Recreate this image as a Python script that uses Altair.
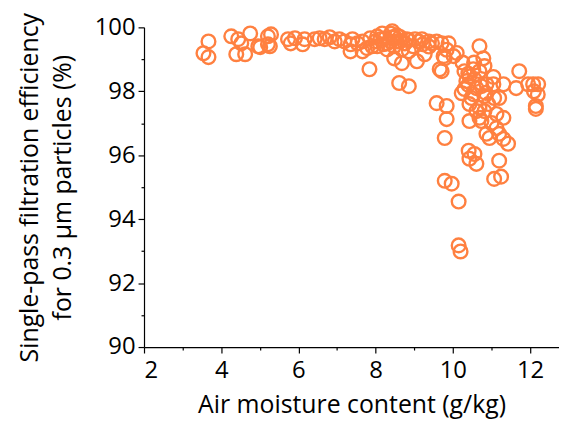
import altair as alt
import pandas as pd

moisture = [
    3.54, 3.67, 3.67, 4.26, 4.44, 4.52, 4.39, 4.62, 4.75, 4.96, 5.21, 5.29, 5.26, 5.01,
    5.73, 5.80, 5.91, 6.11, 6.16, 6.42, 6.55, 6.68, 6.81, 6.94, 7.06, 7.19, 7.35, 7.35,
    7.40, 7.53, 7.66, 7.86, 7.84, 7.99, 8.04, 8.12, 8.20, 8.25, 8.30, 8.38, 8.43, 8.48,
    8.48, 8.56, 8.61, 8.68, 8.68, 8.76, 8.86, 8.86, 8.97, 9.07, 9.12, 9.22, 9.27, 9.38,
    9.58, 9.66, 9.71, 9.76, 9.79, 9.89, 10.02, 9.58, 9.84, 9.84, 9.79, 9.79, 9.97, 10.15,
    10.15, 10.20, 9.71, 10.30, 10.53, 10.69, 10.43, 10.79, 10.82, 10.69, 11.72, 10.30,
    10.61, 10.87, 11.05, 11.31, 11.64, 11.95, 12.08, 12.21, 10.53, 10.82, 11.07, 11.20,
    10.43, 10.69, 10.61, 12.15, 12.15, 10.43, 10.69, 11.13, 11.31, 11.00, 11.13, 10.87,
    10.95, 11.20, 11.31, 11.43, 10.41, 10.56, 10.43, 10.61, 11.20, 11.07, 11.25,
    10.35, 10.56, 10.74, 10.48, 10.23, 10.92, 10.82, 10.74,
    8.04, 8.17, 8.43, 8.50, 8.30, 7.91, 7.78, 7.66, 8.63, 8.81, 9.02, 9.20,
    5.21, 10.25, 10.40, 10.55, 12.20, 12.10, 10.40, 10.85, 11.05, 8.55, 8.63, 8.40,
    8.86, 9.46, 9.38, 9.84, 10.10,
]
efficiency = [
    99.19, 99.07, 99.56, 99.72, 99.63, 99.50, 99.16, 99.16, 99.81, 99.41, 99.47, 99.78, 99.41, 99.38,
    99.63, 99.50, 99.66, 99.47, 99.63, 99.63, 99.66, 99.63, 99.69, 99.56, 99.63, 99.56, 99.47, 99.25,
    99.63, 99.50, 99.56, 99.66, 98.69, 99.56, 99.41, 99.63, 99.47, 99.66, 99.31, 99.56, 99.69, 99.03,
    99.41, 99.56, 98.26, 98.88, 99.31, 99.50, 98.16, 99.25, 99.41, 98.94, 99.56, 99.47, 99.16, 99.56,
    99.56, 98.69, 99.50, 99.10, 99.03, 99.50, 99.10, 97.63, 97.54, 97.13, 96.54, 95.20, 95.11, 94.55,
    93.18, 92.99, 98.63, 98.63, 98.69, 98.63, 98.47, 99.03, 98.79, 99.41, 98.63, 98.07,
    98.10, 98.22, 98.22, 98.22, 98.10, 98.22, 98.22, 98.22, 97.91, 97.85, 97.79, 97.79,
    97.60, 97.48, 97.38, 97.54, 97.45, 97.07, 97.17, 97.29, 97.17, 97.01, 96.85, 96.67,
    96.54, 96.67, 96.51, 96.36, 96.14, 96.04, 95.89, 95.73, 95.83, 95.26, 95.33,
    98.32, 98.38, 98.16, 97.79, 97.94, 97.60, 97.38, 97.07,
    99.72, 99.81, 99.88, 99.69, 99.50, 99.41, 99.35, 99.25, 99.56, 99.63, 99.63, 99.63,
    99.72, 98.90, 98.55, 98.90, 97.90, 98.00, 98.20, 97.95, 98.45, 99.75, 99.70, 99.80,
    99.60, 99.50, 99.40, 99.30, 99.20,
]

df = pd.DataFrame({"moisture": moisture, "efficiency": efficiency})

FONT = "Open Sans"
x_major = [2, 4, 6, 8, 10, 12]
x_minor = [3, 5, 7, 9, 11]
y_major = [90, 92, 94, 96, 98, 100]
y_minor = [91, 93, 95, 97, 99]

xscale = alt.Scale(domain=[2, 12.75], nice=False, zero=False)
yscale = alt.Scale(domain=[90, 100], nice=False, zero=False)

axis_common = dict(
    domainColor="black", domainWidth=1.2, tickColor="black", tickWidth=1.2,
    labelColor="black", labelFont=FONT, labelFontSize=24, titleFont=FONT,
    titleFontSize=25, titleColor="black", titleFontWeight="normal", grid=False,
)

points = alt.Chart(df).mark_point(
    shape="circle", filled=False, color="#FF8040", strokeWidth=2.4, size=190, opacity=1
).encode(
    x=alt.X("moisture:Q", scale=xscale,
            axis=alt.Axis(values=x_major, tickSize=6, title="Air moisture content (g/kg)",
                          labelPadding=6, titlePadding=10, orient="bottom", **axis_common)),
    y=alt.Y("efficiency:Q", scale=yscale,
            axis=alt.Axis(values=y_major, tickSize=6,
                          title=["Single-pass filtration efficiency", "for 0.3 \u03bcm particles (%)"],
                          titleLineHeight=33,
                          labelPadding=3, titlePadding=19, orient="left", **axis_common)),
)

minor = alt.Chart(df).mark_point(opacity=0).encode(
    x=alt.X("moisture:Q", scale=xscale,
            axis=alt.Axis(values=x_minor, tickSize=3, labels=False, domain=False, title=None,
                          orient="bottom", tickColor="black", tickWidth=1.2, grid=False)),
    y=alt.Y("efficiency:Q", scale=yscale,
            axis=alt.Axis(values=y_minor, tickSize=3, labels=False, domain=False, title=None,
                          orient="left", tickColor="black", tickWidth=1.2, grid=False)),
)

chart = alt.layer(points, minor).resolve_axis(x="independent", y="independent").properties(
    width=418, height=322,
    autosize=alt.AutoSizeParams(type="none"),
    padding={"left": 137, "top": 18, "right": 0, "bottom": 75},
).configure_view(stroke=None)

chart.save("out.html", embed_options={"renderer": "svg", "actions": False})
